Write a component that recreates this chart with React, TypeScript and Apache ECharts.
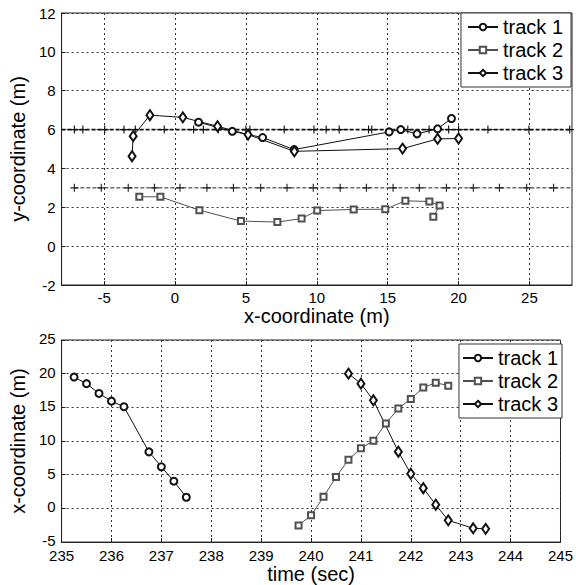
import React, { useEffect, useRef } from 'react';
import * as echarts from 'echarts';

// ---- data ----
const seriesNames = ['track 1', 'track 2', 'track 3'];

const track1Time = [235.25, 235.5, 235.75, 236, 236.25, 236.75, 237, 237.25, 237.5];
const track1X = [19.5, 18.52, 17.07, 15.92, 15.1, 8.4, 6.18, 4.04, 1.66];
const track1Y = [6.57, 6.04, 5.78, 6.0, 5.88, 4.97, 5.59, 5.91, 6.38];

const track2Time = [239.75, 240, 240.25, 240.5, 240.75, 241, 241.25, 241.5, 241.75, 242, 242.25, 242.5, 242.75];
const track2X = [-2.52, -1.03, 1.72, 4.65, 7.22, 8.93, 10.03, 12.6, 14.83, 16.25, 17.94, 18.66, 18.22];
const track2Y = [2.54, 2.54, 1.85, 1.29, 1.24, 1.42, 1.83, 1.89, 1.9, 2.33, 2.3, 2.09, 1.51];

const track3Time = [240.75, 241, 241.25, 241.75, 242, 242.25, 242.5, 242.75, 243.25, 243.5];
const track3X = [20.0, 18.52, 16.05, 8.42, 5.15, 3.0, 0.55, -1.77, -2.95, -3.03];
const track3Y = [5.54, 5.52, 5.02, 4.88, 5.74, 6.17, 6.63, 6.74, 5.66, 4.63];

const laneY = [6, 3];
const lane1Marks = [-7.1, -6.5, -4.96, -3.6, -2.8, -0.76, 1.31, 2.0, 3.05, 5.0, 5.28, 7.7, 9.8, 10.66, 11.58, 13.65, 13.88, 16.42, 17.92, 19.3, 20.0, 22.07, 24.96, 27.84];
const lane1Ends = [-8, 28];
const lane2Marks = [-7.1, -5.2, -3.3, -1.45, 0.35, 2.25, 4.12, 6.04, 7.9, 9.75, 11.65, 13.5, 15.38, 17.23, 19.14, 21.04, 22.88, 24.8, 26.7];
const lane2End = 28;

const topXTicks = [-5, 0, 5, 10, 15, 20, 25];

// ---- styling ----
const FONT = 'Liberation Sans, Arial, sans-serif';
const PLUS = 'path://M0,4.3L10,4.3L10,5.7L0,5.7Z M4.3,0L5.7,0L5.7,10L4.3,10Z';

const trackStyles = [
  { symbol: 'emptyCircle', symbolSize: 7, color: '#111' },
  { symbol: 'emptyRect', symbolSize: 6, color: '#505050' },
  { symbol: 'emptyDiamond', symbolSize: [7, 10], color: '#111' },
];

function zip(a: number[], b: number[]) {
  return a.map((v, i) => [v, b[i]]);
}

function trackSeries(idx: number, data: number[][], axis: number) {
  const s = trackStyles[idx];
  return {
    type: 'line',
    name: seriesNames[idx],
    xAxisIndex: axis,
    yAxisIndex: axis,
    data,
    symbol: s.symbol,
    symbolSize: s.symbolSize,
    showAllSymbol: true,
    z: 5,
    lineStyle: { color: s.color, width: 1 },
    itemStyle: { color: s.color, borderWidth: 1 },
    emphasis: { disabled: true },
  };
}

function axisCommon() {
  return {
    axisLine: { show: true, onZero: false, lineStyle: { color: '#222', width: 1 } },
    axisTick: { show: true, inside: true, length: 4, lineStyle: { color: '#222' } },
    axisLabel: { color: '#000', fontSize: 15, fontFamily: FONT },
    splitLine: { show: true, lineStyle: { color: '#333', width: 1, type: [2, 3] } },
    nameTextStyle: { color: '#000', fontSize: 20, fontFamily: FONT },
    nameLocation: 'middle',
  };
}

export default function App() {
  const ref = useRef<HTMLDivElement>(null);
  useEffect(() => {
    const chart = echarts.init(ref.current!, null, { renderer: 'svg' });

    const lane1Data: any[] = [
      { value: [lane1Ends[0], laneY[0]], symbol: 'none' },
      ...lane1Marks.map((x) => [x, laneY[0]]),
      { value: [lane1Ends[1], laneY[0]], symbol: 'none' },
    ];
    const lane2Data: any[] = [
      ...lane2Marks.map((x) => [x, laneY[1]]),
      { value: [lane2End, laneY[1]], symbol: 'none' },
    ];

    const legendCommon = {
      data: seriesNames,
      orient: 'vertical',
      backgroundColor: '#fff',
      borderColor: '#333',
      borderWidth: 1,
      itemGap: 3,
      itemWidth: 30,
      itemHeight: 8,
      textStyle: { color: '#000', fontSize: 20, fontFamily: FONT },
      selectedMode: false,
      z: 10,
    };

    chart.setOption({
      animation: false,
      backgroundColor: '#fff',
      grid: [
        { left: 53, right: 4, top: 13, bottom: 300, show: true, borderColor: '#222', borderWidth: 1, backgroundColor: 'transparent' },
        { left: 51, right: 12, top: 340, bottom: 41, show: true, borderColor: '#222', borderWidth: 1, backgroundColor: 'transparent' },
      ],
      legend: [
        { ...legendCommon, right: 5, top: 13, padding: [4, 8, 4, 6] },
        { ...legendCommon, right: 14, top: 344, padding: [4, 4, 4, 3] },
      ],
      xAxis: [
        {
          ...axisCommon(),
          gridIndex: 0,
          type: 'value',
          min: -8,
          max: 28,
          name: 'x-coordinate (m)',
          nameGap: 21,
          axisLabel: { ...axisCommon().axisLabel, customValues: topXTicks, margin: 5 },
          axisTick: { ...axisCommon().axisTick, customValues: topXTicks },
        },
        {
          ...axisCommon(),
          gridIndex: 1,
          type: 'value',
          min: 235,
          max: 245,
          interval: 1,
          name: 'time (sec)',
          nameGap: 20,
          axisLabel: { ...axisCommon().axisLabel, margin: 6 },
        },
      ],
      yAxis: [
        {
          ...axisCommon(),
          gridIndex: 0,
          type: 'value',
          min: -2,
          max: 12,
          interval: 2,
          name: 'y-coordinate (m)',
          nameGap: 25,
          axisLabel: { ...axisCommon().axisLabel, margin: 6 },
        },
        {
          ...axisCommon(),
          gridIndex: 1,
          type: 'value',
          min: -5,
          max: 25,
          interval: 5,
          name: 'x-coordinate (m)',
          nameGap: 23,
          axisLabel: { ...axisCommon().axisLabel, margin: 6, verticalAlign: 'bottom', lineHeight: 15, padding: [0, 0, -6, 0] },
        },
      ],
      series: [
        {
          type: 'line',
          name: 'lane 1',
          xAxisIndex: 0,
          yAxisIndex: 0,
          data: lane1Data,
          symbol: PLUS,
          symbolSize: 8,
          showAllSymbol: true,
          clip: true,
          z: 3,
          lineStyle: { color: '#111', width: 1.8, type: [4, 2] },
          itemStyle: { color: '#111' },
          emphasis: { disabled: true },
        },
        {
          type: 'line',
          name: 'lane 2',
          xAxisIndex: 0,
          yAxisIndex: 0,
          data: lane2Data,
          symbol: PLUS,
          symbolSize: 8,
          showAllSymbol: true,
          clip: true,
          z: 3,
          lineStyle: { color: '#222', width: 1, type: [4, 2] },
          itemStyle: { color: '#222' },
          emphasis: { disabled: true },
        },
        trackSeries(0, zip(track1X, track1Y), 0),
        trackSeries(1, zip(track2X, track2Y), 0),
        trackSeries(2, zip(track3X, track3Y), 0),
        trackSeries(0, zip(track1Time, track1X), 1),
        trackSeries(1, zip(track2Time, track2X), 1),
        trackSeries(2, zip(track3Time, track3X), 1),
      ],
    });
    return () => chart.dispose();
  }, []);
  return (
    <div
      ref={ref}
      style={{ position: 'fixed', left: 0, top: 0, width: 576, height: 585, background: '#fff' }}
    />
  );
}
